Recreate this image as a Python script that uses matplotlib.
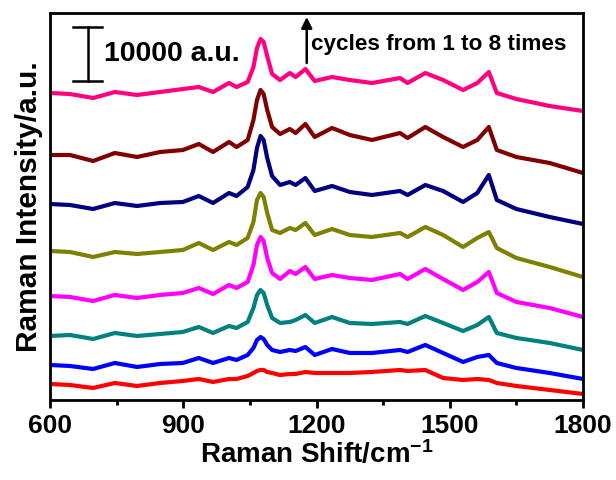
import matplotlib
matplotlib.use("Agg")
import matplotlib.pyplot as plt
from matplotlib.ticker import MultipleLocator

plt.rcParams['font.family'] = ['Liberation Sans', 'DejaVu Sans']
plt.rcParams['font.weight'] = 'bold'
plt.rcParams['mathtext.fontset'] = 'custom'
plt.rcParams['mathtext.rm'] = 'Liberation Sans:bold'
plt.rcParams['mathtext.bf'] = 'Liberation Sans:bold'
plt.rcParams['mathtext.default'] = 'bf'

# Raman shift (cm-1), shared by all spectra
shift = [600, 645, 697, 746, 796, 848, 899, 935, 967, 1003,
         1020, 1045, 1058, 1066, 1074, 1081, 1089, 1100, 1118, 1140,
         1153, 1175, 1196, 1235, 1275, 1325, 1388, 1405, 1445, 1485,
         1530, 1562, 1588, 1606, 1650, 1725, 1800]

# stacked intensities (offset, arbitrary units; scale bar = 10000 a.u.)
cycle1 = [16, 15, 12, 17, 14, 17, 19, 21, 18, 21,
          21, 24, 27, 29, 30, 30, 28, 27, 25, 26,
          26, 28, 27, 27, 27, 28, 30, 29, 30, 22,
          20, 21, 20, 17, 14, 10, 6]
cycle2 = [35, 34, 31, 37, 33, 36, 37, 42, 37, 42,
          40, 45, 52, 60, 63, 61, 55, 50, 48, 50,
          49, 53, 45, 51, 47, 47, 50, 48, 55, 47,
          38, 43, 45, 37, 32, 27, 21]
cycle3 = [64, 65, 61, 67, 64, 66, 68, 73, 67, 74,
          72, 78, 92, 105, 110, 107, 95, 82, 77, 78,
          80, 85, 77, 83, 77, 76, 78, 76, 84, 77,
          69, 75, 83, 67, 62, 57, 50]
cycle4 = [104, 103, 99, 105, 102, 105, 107, 112, 106, 115,
          112, 118, 135, 155, 163, 159, 142, 127, 121, 129,
          126, 133, 121, 125, 122, 120, 126, 121, 131, 121,
          110, 118, 128, 107, 98, 92, 83]
cycle5 = [149, 148, 143, 148, 146, 148, 150, 157, 150, 158,
          155, 162, 178, 200, 207, 203, 187, 170, 167, 172,
          170, 177, 165, 171, 165, 163, 167, 163, 173, 165,
          153, 162, 168, 152, 142, 133, 123]
cycle6 = [196, 195, 191, 197, 194, 197, 198, 204, 197, 207,
          204, 213, 230, 252, 264, 260, 242, 224, 215, 218,
          215, 222, 209, 214, 208, 205, 209, 205, 215, 209,
          198, 207, 225, 200, 191, 183, 176]
cycle7 = [245, 245, 239, 247, 243, 248, 250, 256, 248, 258,
          253, 260, 280, 300, 310, 306, 290, 273, 266, 271,
          267, 276, 263, 272, 265, 260, 267, 262, 273, 263,
          253, 260, 273, 250, 243, 237, 227]
cycle8 = [307, 306, 302, 308, 305, 308, 311, 313, 308, 317,
          313, 318, 333, 352, 361, 358, 344, 326, 320, 327,
          323, 331, 319, 323, 320, 317, 322, 317, 327, 320,
          310, 317, 328, 307, 301, 294, 289]

spectra = [cycle1, cycle2, cycle3, cycle4, cycle5, cycle6, cycle7, cycle8]
colors = ['#FF0000', '#0000FF', '#008080', '#FF00FF',
          '#808000', '#000080', '#800000', '#FF0080']

fig = plt.figure(figsize=(6.16, 4.8), dpi=100)
ax = fig.add_axes([0.0812, 0.1667, 0.8652, 0.8062])

for y, c in zip(spectra, colors):
    ax.plot(shift, y, color=c, lw=3.0, solid_joinstyle='round', solid_capstyle='round')

ax.set_xlim(600, 1800)
ax.set_ylim(0, 387)
ax.xaxis.set_major_locator(MultipleLocator(300))
ax.xaxis.set_minor_locator(MultipleLocator(150))
ax.tick_params(axis='x', which='major', direction='out', length=6, width=2,
               labelsize=19, pad=4, top=False)
ax.tick_params(axis='x', which='minor', direction='out', length=3.5, width=2, top=False)
ax.set_yticks([])
for s in ax.spines.values():
    s.set_linewidth(2)

ax.set_xlabel(r'Raman Shift/cm$^{-1}$', fontsize=20, fontweight='bold', labelpad=2)
ax.set_ylabel('Raman Intensity/a.u.', fontsize=21.5, fontweight='bold', labelpad=5)

# scale bar 10000 a.u.
bar_x, bar_lo, bar_len = 686, 319, 54
ax.plot([bar_x, bar_x], [bar_lo, bar_lo + bar_len], color='black', lw=1.8)
ax.plot([652, 718], [bar_lo, bar_lo], color='black', lw=1.8)
ax.plot([652, 718], [bar_lo + bar_len, bar_lo + bar_len], color='black', lw=1.8)
ax.text(722, bar_lo + bar_len / 2, '10000 a.u.', fontsize=20.5, fontweight='bold',
        va='center', ha='left')

# arrow for cycle order
ax.annotate('', xy=(1178, 383), xytext=(1178, 337),
            arrowprops=dict(arrowstyle='-|>', color='black', lw=1.8,
                            mutation_scale=16, shrinkA=0, shrinkB=0))
ax.text(1188, 356, 'cycles from 1 to 8 times', fontsize=16.2, fontweight='bold',
        va='center', ha='left')

fig.savefig('out.png', dpi=100)
